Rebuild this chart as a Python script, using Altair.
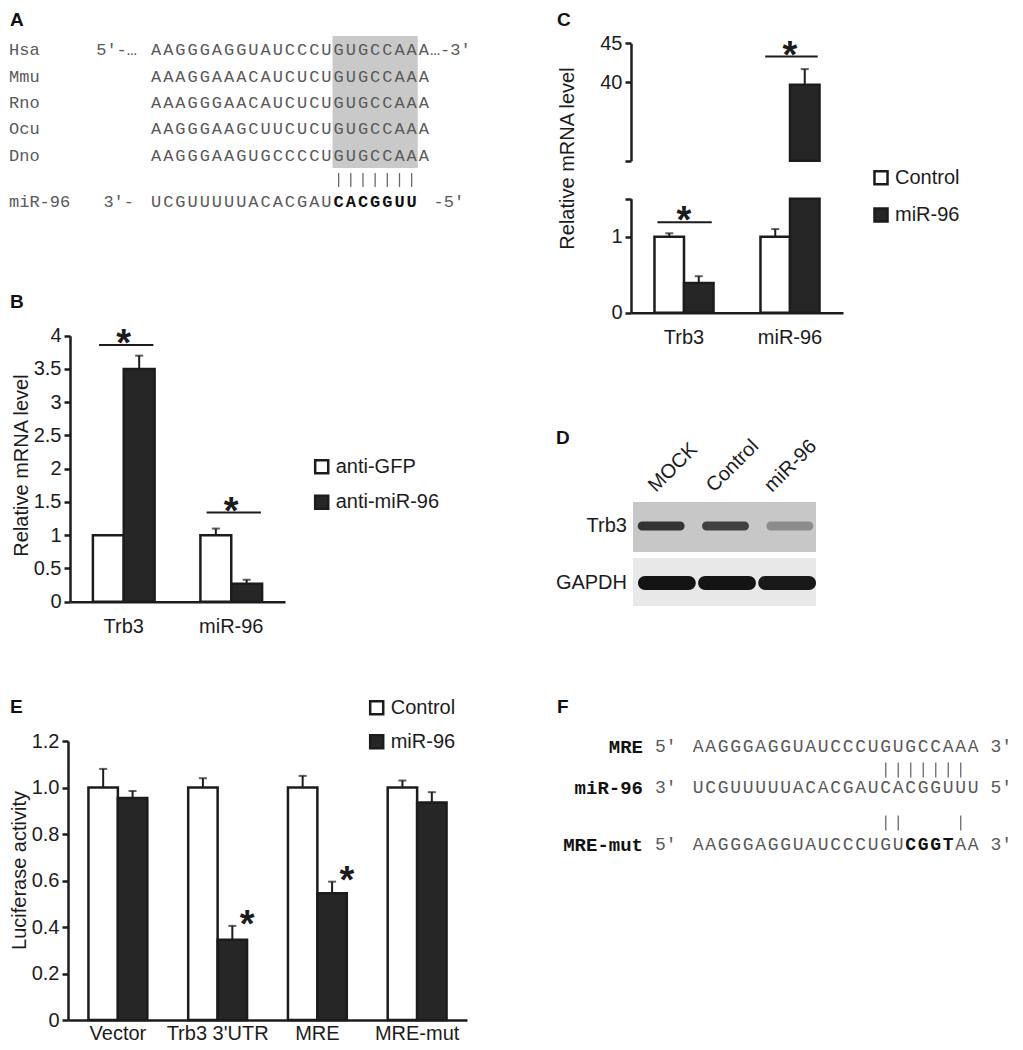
import altair as alt
import pandas as pd

# ------------------------------------------------------------------
# Data
# ------------------------------------------------------------------
# A: conservation of the miR-96 site in the Trb3 3'UTR
a_species = ["Hsa", "Mmu", "Rno", "Ocu", "Dno"]
a_seqs = [
    "AAGGGAGGUAUCCCUGUGCCAAA",
    "AAAGGAAACAUCUCUGUGCCAAA",
    "AAAGGGAACAUCUCUGUGCCAAA",
    "AAGGGAAGCUUCUCUGUGCCAAA",
    "AAGGGAAGUGCCCCUGUGCCAAA",
]
a_hsa_ends = ["5′-…", "…-3′"]
a_mir_name = "miR-96"
a_mir_seq = "UCGUUUUUACACGAUCACGGUU"
a_mir_ends = ["3′-", "-5′"]
a_mir_bold = [15, 16, 17, 18, 19, 20, 21]
a_seed_box = [15, 22]
a_pairs = [15, 16, 17, 18, 19, 20, 21]

# B: qPCR after anti-miR-96
b_genes = ["Trb3", "miR-96"]
b_groups = ["anti-GFP", "anti-miR-96"]
b_ctrl = [1.0, 1.0]
b_ctrl_err = [1.0, 1.10]
b_treat = [3.5, 0.27]
b_treat_err = [3.70, 0.33]
b_sig = [3.86, 1.34]
b_ticks = [0, 0.5, 1, 1.5, 2, 2.5, 3, 3.5, 4]

# C: qPCR after miR-96 overexpression (broken axis)
c_genes = ["Trb3", "miR-96"]
c_groups = ["Control", "miR-96"]
c_ctrl = [1.0, 1.0]
c_ctrl_err = [1.045, 1.10]
c_treat = [0.39, 39.7]
c_treat_err = [0.48, 41.7]
c_sig = [1.19, 43.3]
c_ticks_low = [0, 1, 1.5]
c_ticks_high = [30, 40, 45]

# D: western blot
d_lanes = ["MOCK", "Control", "miR-96"]
d_rows = ["Trb3", "GAPDH"]
d_trb3 = [0.80, 0.72, 0.30]
d_gapdh = [1.0, 1.0, 0.97]

# E: luciferase reporter
e_constructs = ["Vector", "Trb3 3'UTR", "MRE", "MRE-mut"]
e_groups = ["Control", "miR-96"]
e_ctrl = [1.0, 1.0, 1.0, 1.0]
e_ctrl_err = [1.08, 1.04, 1.05, 1.03]
e_treat = [0.955, 0.345, 0.545, 0.935]
e_treat_err = [0.985, 0.405, 0.595, 0.98]
e_sig = [False, True, True, False]
e_ticks = [0, 0.2, 0.4, 0.6, 0.8, 1.0, 1.2]

# F: MRE / mutant sequences
f_names = ["MRE", "miR-96", "MRE-mut"]
f_ends = [["5′", "3′"], ["3′", "5′"], ["5′", "3′"]]
f_seqs = [
    "AAGGGAGGUAUCCCUGUGCCAAA",
    "UCGUUUUUACACGAUCACGGUUU",
    "AAGGGAGGUAUCCCUGUCGGTAA",
]
f_bold = [[], [], [17, 18, 19, 20]]
f_pairs = [[15, 16, 17, 18, 19, 20, 21], [15, 16, 21]]

# ------------------------------------------------------------------
# Layout / style
# ------------------------------------------------------------------
W, H = 1007, 1034
SANS = "Liberation Sans"
MONO = "Liberation Mono"
INK = "#1c1c1c"
SEQ_GREY = "#595959"
FILL_CTRL = "#ffffff"
FILL_TRT = "#262626"
STAR_SIZE = 38
STAR_DY = 11


def px(v):
    """reference-picture pixel -> chart pixel (page margin is 8px)"""
    return v - 8


ONE = pd.DataFrame({"k": [0]})
layers = []


def const_text(txt, x, y, size, font=SANS, weight="normal", color=INK,
               align="left", baseline="middle", angle=None):
    kw = dict(text=txt, font=font, fontSize=size, fontWeight=weight,
              color=color, align=align, baseline=baseline)
    if angle is not None:
        kw["angle"] = angle
    return alt.Chart(ONE).mark_text(**kw).encode(x=alt.value(x), y=alt.value(y))


def char_x(x0, cw, field="pos", n=23):
    return alt.X(f"{field}:Q", axis=None,
                 scale=alt.Scale(domain=[0, n], range=[x0, x0 + n * cw], nice=False, zero=False))


def seq_layers(seq, y, x0, cw, size, bold=()):
    df = pd.DataFrame({"i": list(range(len(seq))), "ch": list(seq),
                       "bold": [i in bold for i in range(len(seq))]})
    base = alt.Chart(df).transform_calculate(pos="datum.i + 0.5")
    out = [base.transform_filter("!datum.bold").mark_text(
        font=MONO, fontSize=size, color=SEQ_GREY, align="center", baseline="middle"
    ).encode(x=char_x(x0, cw), y=alt.value(y), text="ch:N")]
    if bold:
        out.append(base.transform_filter("datum.bold").mark_text(
            font=MONO, fontSize=size, fontWeight="bold", color="#111111",
            align="center", baseline="middle"
        ).encode(x=char_x(x0, cw), y=alt.value(y), text="ch:N"))
    return out


def pair_layer(idx, y, x0, cw, h=15):
    df = pd.DataFrame({"i": idx})
    return alt.Chart(df).transform_calculate(pos="datum.i + 0.5").mark_rule(
        color="#6a6a6a", strokeWidth=1.3
    ).encode(x=char_x(x0, cw), y=alt.value(y - h / 2), y2=alt.value(y + h / 2))


def grouped(cats, groups, ctrl, ctrl_err, treat, treat_err, sig=None):
    rows = []
    for k, cat in enumerate(cats):
        rows.append(dict(cat=cat, grp=groups[0], val=ctrl[k], err=ctrl_err[k], sig=False))
        rows.append(dict(cat=cat, grp=groups[1], val=treat[k], err=treat_err[k],
                         sig=bool(sig[k]) if sig is not None else False))
    return pd.DataFrame(rows)


def y_axis(offset, values, title=None, title_x=0, title_y=0, label_expr=None, fmt="~g"):
    kw = dict(orient="left", offset=offset, values=values, format=fmt, grid=False,
              tickSize=6, tickWidth=2.5, tickColor=INK, domainColor=INK, domainWidth=2.5,
              labelFont=SANS, labelFontSize=20, labelColor=INK, labelPadding=3)
    if label_expr:
        kw["labelExpr"] = label_expr
    if title:
        kw.update(title=title, titleX=title_x, titleY=title_y, titleAngle=270,
                  titleAlign="center", titleBaseline="alphabetic", titleFont=SANS,
                  titleFontSize=20, titleFontWeight="normal", titleColor=INK)
    else:
        kw["title"] = None
    return alt.Axis(**kw)


def x_axis(offset, pad, size=20):
    return alt.Axis(orient="bottom", offset=offset, ticks=False, tickSize=0, grid=False,
                    domainColor=INK, domainWidth=2.5, labelFont=SANS, labelFontSize=size,
                    labelColor=INK, labelPadding=pad, labelAngle=0, title=None)


def legend(x, y, row_pad):
    return alt.Legend(orient="none", legendX=x, legendY=y, title=None, symbolType="square",
                      symbolSize=170, symbolStrokeColor=INK, symbolStrokeWidth=2.5,
                      labelFont=SANS, labelFontSize=20, labelColor=INK, labelOffset=4,
                      rowPadding=row_pad, padding=0)


def offset_enc(groups):
    return alt.XOffset("grp:N", scale=alt.Scale(domain=groups, paddingInner=0, paddingOuter=0))


def bar_layer(df, xsc, ysc, groups, xaxis=None, yaxis=None, leg=None, base=0, flt=None):
    ch = alt.Chart(df)
    if flt:
        ch = ch.transform_filter(flt)
    return ch.mark_bar(stroke=INK, strokeWidth=2.5).encode(
        x=alt.X("cat:N", scale=xsc, axis=xaxis),
        xOffset=offset_enc(groups),
        y=alt.Y("val:Q", scale=ysc, axis=yaxis),
        y2=alt.datum(base),
        fill=alt.Fill("grp:N", scale=alt.Scale(domain=groups, range=[FILL_CTRL, FILL_TRT]),
                      legend=leg),
    )


def err_layers(df, xsc, ysc, groups, flt=None):
    ch = alt.Chart(df)
    if flt:
        ch = ch.transform_filter(flt)
    x = alt.X("cat:N", scale=xsc, axis=None)
    rule = ch.mark_rule(color=INK, strokeWidth=2).encode(
        x=x, xOffset=offset_enc(groups), y=alt.Y("val:Q", scale=ysc, axis=None), y2="err:Q")
    cap = ch.mark_tick(color=INK, thickness=2, size=8, orient="horizontal").encode(
        x=x, xOffset=offset_enc(groups), y=alt.Y("err:Q", scale=ysc, axis=None))
    return [rule, cap]


def sig_layers(cats, sig, xsc, ysc, b0, b1, flt=None):
    ch = alt.Chart(pd.DataFrame({"cat": cats, "sig": sig}))
    if flt:
        ch = ch.transform_filter(flt)
    line = ch.mark_rule(color=INK, strokeWidth=2).encode(
        x=alt.X("cat:N", scale=xsc, axis=None, bandPosition=b0),
        x2=alt.X2("cat:N", bandPosition=b1),
        y=alt.Y("sig:Q", scale=ysc, axis=None))
    star = ch.mark_text(text="*", font=SANS, fontSize=STAR_SIZE, fontWeight="bold", color=INK,
                        align="center", baseline="alphabetic", dy=STAR_DY).encode(
        x=alt.X("cat:N", scale=xsc, axis=None, bandPosition=0.55),
        y=alt.Y("sig:Q", scale=ysc, axis=None))
    return [line, star]


# ------------------------------------------------------------------
# Panel letters
# ------------------------------------------------------------------
for letter, x, y in [("A", 2, px(20)), ("B", 2, px(302)), ("C", px(557), px(20)),
                     ("D", px(556), px(438)), ("E", 2, px(707)), ("F", px(557), px(707))]:
    layers.append(const_text(letter, x, y, 19, weight="bold", color="#111111"))

# ------------------------------------------------------------------
# A
# ------------------------------------------------------------------
AX0, ACW, AFS = px(150), 12.17, 17
a_rows_y = [px(50), px(77), px(103), px(129), px(156)]
box = pd.DataFrame({"start": [a_seed_box[0]], "end": [a_seed_box[1]]})
layers.append(alt.Chart(box).mark_rect(color="#c9c9c9").encode(
    x=char_x(AX0, ACW, field="start"), x2="end:Q",
    y=alt.value(px(36)), y2=alt.value(px(168))))
for sp, seq, y in zip(a_species, a_seqs, a_rows_y):
    layers.append(const_text(sp, 1, y, AFS, font=MONO, color=SEQ_GREY))
    layers += seq_layers(seq, y, AX0, ACW, AFS)
layers.append(const_text(a_hsa_ends[0], px(137), a_rows_y[0], AFS, font=MONO,
                         color=SEQ_GREY, align="right"))
layers.append(const_text(a_hsa_ends[1], AX0 + 23 * ACW, a_rows_y[0], AFS, font=MONO,
                         color=SEQ_GREY))
layers.append(pair_layer(a_pairs, px(180), AX0, ACW, 14))
mir_y = px(202)
layers.append(const_text(a_mir_name, 1, mir_y, AFS, font=MONO, color=SEQ_GREY))
layers.append(const_text(a_mir_ends[0], px(134), mir_y, AFS, font=MONO, color=SEQ_GREY,
                         align="right"))
layers += seq_layers(a_mir_seq, mir_y, AX0, ACW, AFS, bold=a_mir_bold)
layers.append(const_text(a_mir_ends[1], AX0 + 23.3 * ACW, mir_y, AFS, font=MONO, color=SEQ_GREY))

# ------------------------------------------------------------------
# B
# ------------------------------------------------------------------
b_df = grouped(b_genes, b_groups, b_ctrl, b_ctrl_err, b_treat, b_treat_err)
b_x = alt.Scale(domain=b_genes, range=[px(70), px(285)], paddingInner=0.426, paddingOuter=0.213)
b_y = alt.Scale(domain=[0, 4], range=[px(601.7), px(335.7)], nice=False)
layers += err_layers(b_df, b_x, b_y, b_groups)
layers.append(bar_layer(
    b_df, b_x, b_y, b_groups,
    xaxis=x_axis(px(601.7) - H, 15),
    yaxis=y_axis(-px(70), b_ticks, "Relative mRNA level", px(27) - px(70), px(465)),
    leg=legend(px(311.7), px(466.7) - 10, 11.5)))
layers += sig_layers(b_genes, b_sig, b_x, b_y, 0.1, 0.98)

# ------------------------------------------------------------------
# C (broken axis: lower 0-1.5, upper 30-45)
# ------------------------------------------------------------------
c_df = grouped(c_genes, c_groups, c_ctrl, c_ctrl_err, c_treat, c_treat_err)
c_x = alt.Scale(domain=c_genes, range=[px(631), px(843)], paddingInner=0.443, paddingOuter=0.2215)
c_lo = alt.Scale(domain=[0, 1.5], range=[px(312.7), px(198.7)], nice=False, clamp=True)
c_hi = alt.Scale(domain=[30, 45], range=[px(160.7), px(43.3)], nice=False, clamp=True)
layers += err_layers(c_df, c_x, c_lo, c_groups, flt="datum.err <= 1.5")
layers.append(bar_layer(
    c_df, c_x, c_lo, c_groups,
    xaxis=x_axis(px(312.7) - H, 15),
    yaxis=y_axis(-px(631), c_ticks_low, label_expr="datum.value == 1.5 ? '' : datum.label"),
    leg=legend(px(871), px(177.7) - 10, 13.3)))
layers += sig_layers(c_genes, c_sig, c_x, c_lo, 0.05, 0.97, flt="datum.sig <= 1.5")
layers += err_layers(c_df, c_x, c_hi, c_groups, flt="datum.val > 30")
layers.append(bar_layer(
    c_df, c_x, c_hi, c_groups, base=30, flt="datum.val > 30",
    yaxis=y_axis(-px(631), c_ticks_high, "Relative mRNA level", px(573) - px(631), px(158),
                 label_expr="datum.value == 30 ? '' : datum.label")))
layers += sig_layers(c_genes, c_sig, c_x, c_hi, 0.08, 0.97, flt="datum.sig > 30")

# ------------------------------------------------------------------
# D (western blot)
# ------------------------------------------------------------------
layers.append(alt.Chart(ONE).mark_rect(color="#c7c7c7").encode(
    x=alt.value(px(633)), x2=alt.value(px(816)), y=alt.value(px(502)), y2=alt.value(px(552))))
layers.append(alt.Chart(ONE).mark_rect(color="#e8e8e8").encode(
    x=alt.value(px(633)), x2=alt.value(px(816)), y=alt.value(px(558)), y2=alt.value(px(606))))
band_col = alt.Scale(domain=[0, 1], range=["#c7c7c7", "#141414"])
d_trb3_df = pd.DataFrame({"lane": d_lanes, "intensity": d_trb3})
d_gapdh_df = pd.DataFrame({"lane": d_lanes, "intensity": d_gapdh})
layers.append(alt.Chart(d_trb3_df).mark_bar(cornerRadius=4.5).encode(
    x=alt.X("lane:N", axis=None, scale=alt.Scale(domain=d_lanes, range=[px(629), px(822)],
                                                 paddingInner=0.27, paddingOuter=0.135)),
    y=alt.value(px(521.5)), y2=alt.value(px(530.5)),
    fill=alt.Fill("intensity:Q", scale=band_col, legend=None)))
layers.append(alt.Chart(d_gapdh_df).mark_bar(cornerRadius=7).encode(
    x=alt.X("lane:N", axis=None, scale=alt.Scale(domain=d_lanes, range=[px(638), px(816)],
                                                 paddingInner=0.04, paddingOuter=0)),
    y=alt.value(px(576)), y2=alt.value(px(590)),
    fill=alt.Fill("intensity:Q", scale=band_col, legend=None)))
layers.append(const_text(d_rows[0], px(627), px(526), 20, align="right"))
layers.append(const_text(d_rows[1], px(627), px(583), 20, align="right"))
layers.append(alt.Chart(pd.DataFrame({"lane": d_lanes})).mark_text(
    font=SANS, fontSize=20, color=INK, angle=315, align="left", baseline="alphabetic").encode(
    x=alt.X("lane:N", axis=None, scale=alt.Scale(domain=d_lanes, range=[px(627), px(801)],
                                                 paddingInner=0, paddingOuter=0)),
    y=alt.value(px(493)), text="lane:N"))

# ------------------------------------------------------------------
# E
# ------------------------------------------------------------------
e_df = grouped(e_constructs, e_groups, e_ctrl, e_ctrl_err, e_treat, e_treat_err, e_sig)
e_x = alt.Scale(domain=e_constructs, range=[px(68), px(467)], paddingInner=0.41, paddingOuter=0.205)
e_y = alt.Scale(domain=[0, 1.2], range=[px(1020), px(741)], nice=False)
layers += err_layers(e_df, e_x, e_y, e_groups)
layers.append(bar_layer(
    e_df, e_x, e_y, e_groups,
    xaxis=x_axis(px(1020) - H, 3, size=20),
    yaxis=y_axis(-px(68), e_ticks, "Luciferase activity", px(25) - px(68), px(870),
                 label_expr="datum.value == 0 ? '0' : format(datum.value, '.1f')"),
    leg=legend(px(366.7), px(707.7) - 10, 10)))
layers.append(alt.Chart(e_df).transform_filter("datum.sig").mark_text(
    text="*", font=SANS, fontSize=STAR_SIZE, fontWeight="bold", color=INK,
    align="center", baseline="alphabetic", dy=STAR_DY).encode(
    x=alt.X("cat:N", scale=e_x, axis=None), xOffset=offset_enc(e_groups),
    y=alt.Y("err:Q", scale=e_y, axis=None)))

# ------------------------------------------------------------------
# F
# ------------------------------------------------------------------
FX0, FCW, FFS = px(692), 12.5, 18
f_rows_y = [px(747), px(788), px(845)]
f_pair_y = [px(770), px(823)]
for name, ends, seq, bold, y in zip(f_names, f_ends, f_seqs, f_bold, f_rows_y):
    layers.append(const_text(name, px(643), y, 19, font=MONO, weight="bold",
                             color="#111111", align="right"))
    layers.append(const_text(ends[0], px(655), y, FFS, font=MONO, color=SEQ_GREY))
    layers += seq_layers(seq, y, FX0, FCW, FFS, bold=bold)
    layers.append(const_text(ends[1], FX0 + 23 * FCW + 11, y, FFS, font=MONO, color=SEQ_GREY))
for idx, y in zip(f_pairs, f_pair_y):
    layers.append(pair_layer(idx, y, FX0, FCW, 15))

# ------------------------------------------------------------------
chart = (
    alt.layer(*layers)
    .resolve_scale(x="independent", y="independent", xOffset="independent", fill="independent")
    .properties(width=W, height=H, padding=0, autosize=alt.AutoSizeParams(type="none"))
    .configure_view(strokeWidth=0)
)
chart.save("out.html", embed_options={"renderer": "svg", "actions": False})
